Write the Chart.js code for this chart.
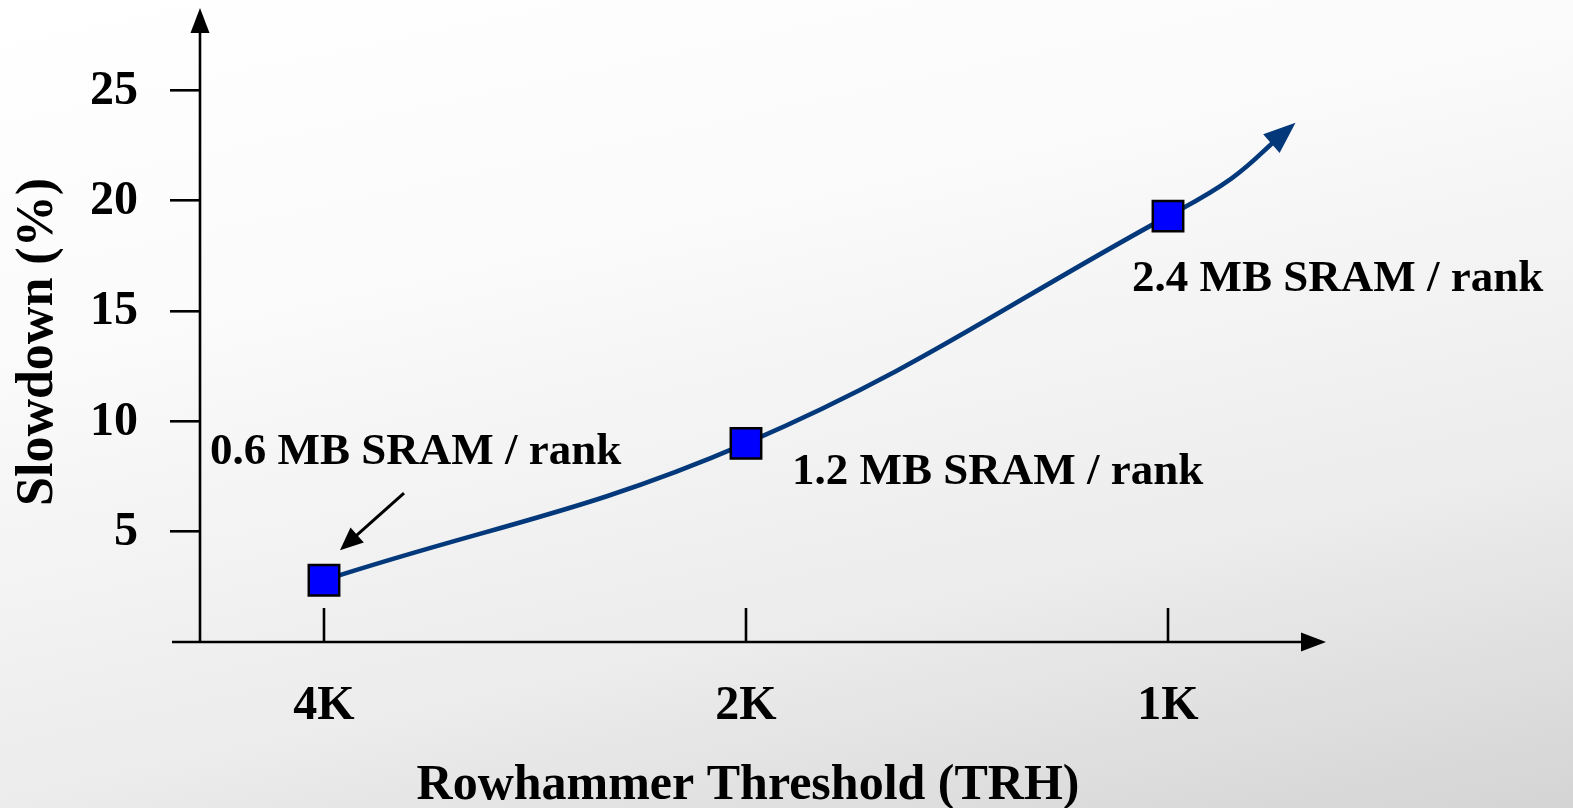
<!DOCTYPE html>
<html><head><meta charset="utf-8">
<script src="https://cdn.jsdelivr.net/npm/chart.js@4"></script>
<style>
html,body{margin:0;padding:0;width:1573px;height:808px;overflow:hidden;}
body{background:linear-gradient(168deg,#ffffff 0%,#fbfbfb 30%,#ececec 70%,#d4d4d4 100%);}
canvas{display:block;}
</style></head><body>
<canvas id="c" width="1573" height="808"></canvas>
<script>
// ---- data ----
const categories = ['4K', '2K', '1K'];
const slowdown = [2.8, 9.0, 19.3];
const sramLabels = ['0.6 MB SRAM / rank', '1.2 MB SRAM / rank', '2.4 MB SRAM / rank'];
const yTickValues = [5, 10, 15, 20, 25];
const trendTailX = [2.15, 2.27];
const trendTailY = [21.0, 23.0];
const xTitle = 'Rowhammer Threshold (TRH)';
const yTitle = 'Slowdown (%)';

// ---- layout / style ----
const FONT = '"Liberation Serif", "Times New Roman", serif';
const LINE_COLOR = '#03387a';
const labelOffsets = [{dx: -114, dy: -128}, {dx: 46, dy: 29}, {dx: -36, dy: 63}];
const calloutArrow = {sx: 80, sy: -87, ex: 16, ey: -30};

const points = categories.map((c, i) => ({x: i, y: slowdown[i]}));
const tail = trendTailX.map((v, i) => ({x: v, y: trendTailY[i]}));
const lineData = points.concat(tail);

function tri(ctx, tx, ty, ang, len, half) {
  const bx = tx - Math.cos(ang) * len, by = ty - Math.sin(ang) * len;
  const nx = -Math.sin(ang) * half, ny = Math.cos(ang) * half;
  ctx.beginPath();
  ctx.moveTo(tx, ty);
  ctx.lineTo(bx + nx, by + ny);
  ctx.lineTo(bx - nx, by - ny);
  ctx.closePath();
  ctx.fill();
}

const axesPlugin = {
  id: 'axesPlugin',
  beforeDatasetsDraw(chart) {
    const {ctx, chartArea: a, scales: {x, y}} = chart;
    const y0 = y.getPixelForValue(0);
    ctx.save();
    ctx.strokeStyle = '#000'; ctx.fillStyle = '#000'; ctx.lineWidth = 2.6;
    // x axis
    ctx.beginPath(); ctx.moveTo(a.left - 28, y0); ctx.lineTo(a.right + 8, y0); ctx.stroke();
    tri(ctx, a.right + 30, y0, 0, 25, 9.5);
    // y axis
    ctx.beginPath(); ctx.moveTo(a.left, y0 + 1); ctx.lineTo(a.left, a.top - 12); ctx.stroke();
    tri(ctx, a.left, a.top - 34, -Math.PI / 2, 25, 9.5);
    // x ticks (inward)
    categories.forEach((c, i) => {
      const px = x.getPixelForValue(i);
      ctx.beginPath(); ctx.moveTo(px, y0); ctx.lineTo(px, y0 - 34); ctx.stroke();
    });
    ctx.restore();
  },
  afterDatasetsDraw(chart) {
    const {ctx} = chart;
    const meta = chart.getDatasetMeta(0);
    ctx.save();
    // trend arrowhead
    const last = meta.data[meta.data.length - 1];
    const prev = meta.data[meta.data.length - 2];
    const ang = Math.atan2(last.y - prev.y, last.x - prev.x);
    ctx.fillStyle = LINE_COLOR;
    tri(ctx, last.x + Math.cos(ang) * 18, last.y + Math.sin(ang) * 18, ang, 32, 12.5);
    // labels
    ctx.fillStyle = '#000';
    ctx.font = 'bold 45px ' + FONT;
    ctx.textAlign = 'left'; ctx.textBaseline = 'middle';
    sramLabels.forEach((t, i) => {
      const p = meta.data[i];
      ctx.fillText(t, p.x + labelOffsets[i].dx, p.y + labelOffsets[i].dy);
    });
    // callout arrow to first point
    const p0 = meta.data[0];
    const sx = p0.x + calloutArrow.sx, sy = p0.y + calloutArrow.sy;
    const ex = p0.x + calloutArrow.ex, ey = p0.y + calloutArrow.ey;
    const a2 = Math.atan2(ey - sy, ex - sx);
    ctx.strokeStyle = '#000'; ctx.lineWidth = 3;
    ctx.beginPath(); ctx.moveTo(sx, sy);
    ctx.lineTo(ex - Math.cos(a2) * 15, ey - Math.sin(a2) * 15); ctx.stroke();
    tri(ctx, ex, ey, a2, 23, 10);
    ctx.restore();
  }
};

new Chart(document.getElementById('c'), {
  type: 'line',
  data: {
    datasets: [{
      data: lineData,
      borderColor: LINE_COLOR,
      borderWidth: 4.6,
      borderCapStyle: 'butt',
      tension: 0.4,
      fill: false,
      clip: false,
      pointStyle: 'rect',
      pointRadius: lineData.map((d, i) => i < points.length ? 21.5 : 0),
      pointHoverRadius: lineData.map((d, i) => i < points.length ? 21.5 : 0),
      pointBackgroundColor: '#0000ff',
      pointBorderColor: '#000',
      pointBorderWidth: 2.5
    }]
  },
  options: {
    responsive: false,
    animation: false,
    events: [],
    layout: {padding: {top: 42, right: 277, bottom: 0, left: 0}},
    plugins: {legend: {display: false}, tooltip: {enabled: false}},
    scales: {
      x: {
        type: 'linear',
        min: -0.2938,
        max: 2.3033,
        afterBuildTicks: s => { s.ticks = categories.map((c, i) => ({value: i})); },
        afterFit: s => { s.height = 166; s.paddingLeft = 0; s.paddingRight = 0; },
        grid: {display: false, drawTicks: false},
        border: {display: false},
        ticks: {
          color: '#000',
          padding: 36,
          autoSkip: false,
          maxRotation: 0,
          font: {family: FONT, size: 48, weight: 'bold', lineHeight: 1.2},
          callback: v => categories[v]
        },
        title: {
          display: true, text: xTitle, color: '#000',
          font: {family: FONT, size: 50, weight: 'bold', lineHeight: 1},
          padding: {top: 0, bottom: -3}
        }
      },
      y: {
        type: 'linear',
        min: 0,
        max: 27.19,
        afterBuildTicks: s => { s.ticks = yTickValues.map(v => ({value: v})); },
        afterFit: s => { s.width = 200; s.paddingTop = 0; s.paddingBottom = 0; },
        grid: {display: true, drawOnChartArea: false, drawTicks: true, tickLength: 30, color: '#000', lineWidth: 2.6},
        border: {display: false},
        ticks: {
          color: '#000',
          padding: 32,
          labelOffset: 1,
          font: {family: FONT, size: 48, weight: 'bold', lineHeight: 1.2}
        },
        title: {
          display: true, text: yTitle, color: '#000',
          font: {family: FONT, size: 52, weight: 'bold', lineHeight: 1.2},
          padding: {top: 7, bottom: 0}
        }
      }
    }
  },
  plugins: [axesPlugin]
});
</script>
</body></html>
